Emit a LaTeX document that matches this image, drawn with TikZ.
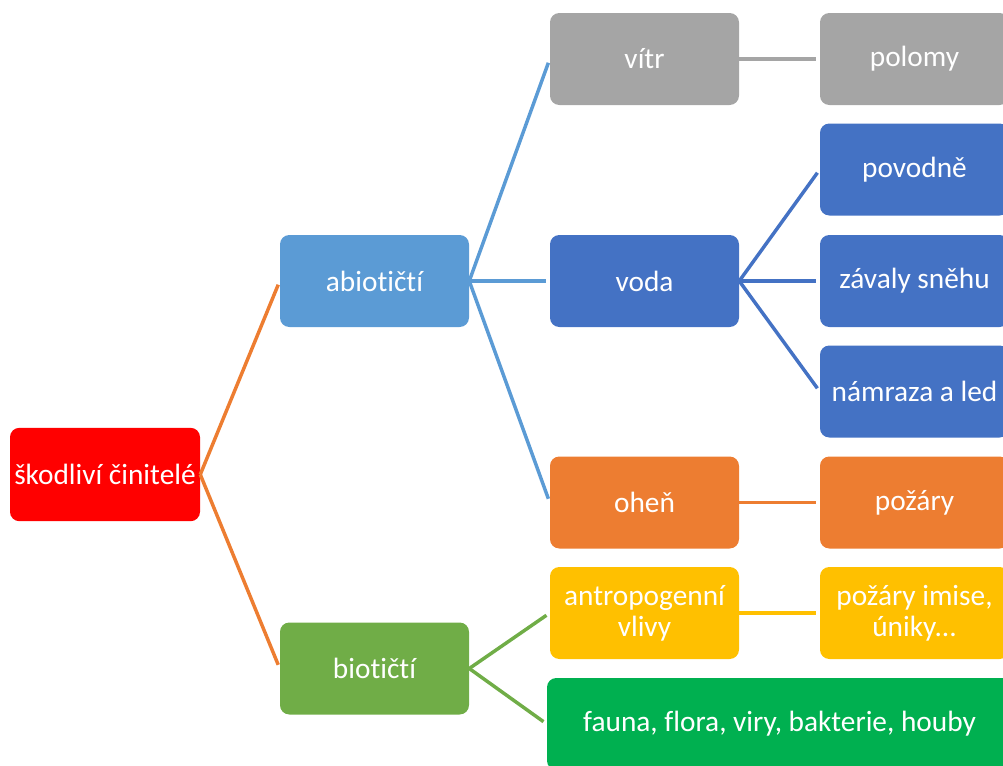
\documentclass[tikz,border=0pt]{standalone}
\usepackage{fontspec}
\setmainfont{Carlito}[Ligatures={NoCommon}]
\usepackage{xcolor}
\usetikzlibrary{positioning}
\definecolor{rootred}{HTML}{FF0000}
\definecolor{skyblue}{HTML}{5B9BD5}
\definecolor{waterblue}{HTML}{4472C4}
\definecolor{windgray}{HTML}{A5A5A5}
\definecolor{fireorange}{HTML}{ED7D31}
\definecolor{leafgreen}{HTML}{70AD47}
\definecolor{humanyellow}{HTML}{FFC000}
\definecolor{lifegreen}{HTML}{00B050}

\begin{document}
\begin{tikzpicture}[x=0.75pt, y=-0.75pt,
  box/.style={rectangle, rounded corners=7pt, minimum width=141.75pt,
    minimum height=69pt, inner sep=1pt, text=white, align=center,
    font=\fontsize{22}{23.5}\selectfont},
  link/.style={line width=2.6pt, shorten >=3pt}]
  \useasboundingbox (0,0) rectangle (1003,765);
  \clip (0,0) rectangle (1003,765);
  % root and the two groups
  \node[box, fill=rootred, minimum width=142.5pt, minimum height=70pt] (root) at (105,474.5) {škodliví činitelé};
  \node[box, fill=skyblue] (abio) at (374.5,281) {abiotičtí};
  \node[box, fill=leafgreen] (bio) at (374.5,668.5) {biotičtí};
  % second column
  \node[box, fill=windgray] (vitr) at (644.5,59) {vítr};
  \node[box, fill=waterblue] (voda) at (644.5,281) {voda};
  \node[box, fill=fireorange] (ohen) at (644.5,502.5) {oheň};
  \node[box, fill=humanyellow] (antropo) at (644.5,613) {antropogenní\\vlivy};
  \node[box, fill=lifegreen, minimum width=348.75pt] (fauna) at (779.5,724) {fauna, flora, viry, bakterie, houby};
  % third column (cut off at the right edge)
  \node[box, fill=windgray] (polomy) at (914.5,59) {polomy};
  \node[box, fill=waterblue] (povodne) at (914.5,169.5) {povodně};
  \node[box, fill=waterblue] (zavaly) at (914.5,281) {závaly sněhu};
  \node[box, fill=waterblue] (namraza) at (914.5,391.5) {námraza a led};
  \node[box, fill=fireorange] (pozary) at (914.5,502.5) {požáry};
  \node[box, fill=humanyellow] (imise) at (914.5,613) {požáry imise,\\úniky...};
  % connectors
  \foreach \to in {abio, bio}
    \draw[link, fireorange] (root.east) -- (\to.west);
  \foreach \to in {vitr, voda, ohen}
    \draw[link, skyblue] (abio.east) -- (\to.west);
  \foreach \to in {povodne, zavaly, namraza}
    \draw[link, waterblue] (voda.east) -- (\to.west);
  \foreach \to in {antropo, fauna}
    \draw[link, leafgreen] (bio.east) -- (\to.west);
  \draw[link, windgray] (vitr) -- (polomy);
  \draw[link, fireorange] (ohen) -- (pozary);
  \draw[link, humanyellow] (antropo) -- (imise);
\end{tikzpicture}
\end{document}
